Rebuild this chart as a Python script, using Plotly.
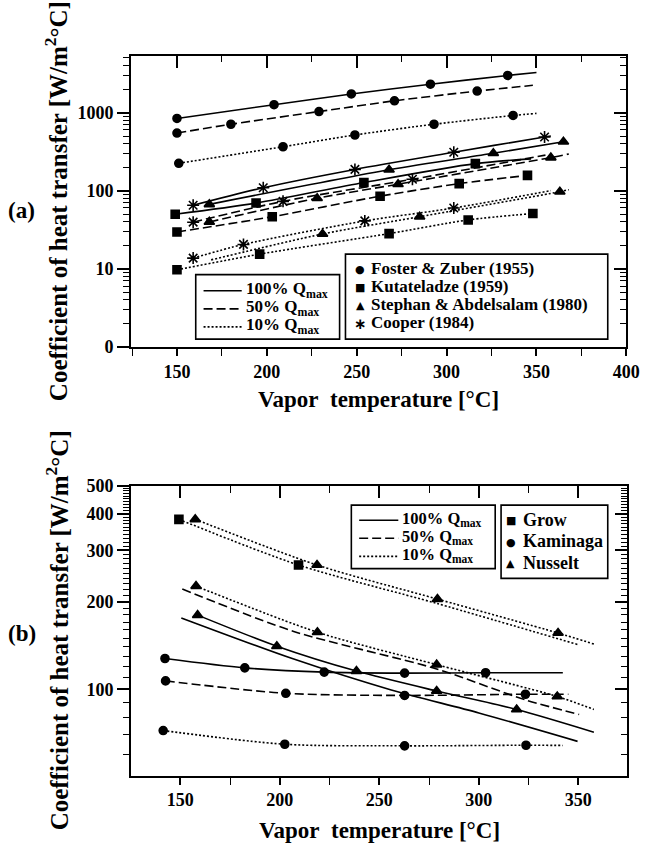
import plotly.graph_objects as go

# ---------------- Panel (a) data : T [°C], h [W/m2°C], marker flag ----------------
FZ100_T = [150, 204, 247, 291, 334, 350]
FZ100_H = [840, 1259, 1728, 2304, 2985, 3250]
FZ100_M = [1, 1, 1, 1, 1, 0]
FZ50_T = [150, 180, 229, 271, 317, 348]
FZ50_H = [546, 708, 1030, 1413, 1884, 2230]
FZ50_M = [1, 1, 1, 1, 1, 0]
FZ10_T = [151, 209, 249, 293, 337, 350]
FZ10_H = [224, 365, 516, 708, 917, 975]
FZ10_M = [1, 1, 1, 1, 1, 0]

KU100_T = [149, 194, 254, 316, 347]
KU100_H = [50, 69.4, 127, 222, 255]
KU100_M = [1, 1, 1, 1, 0]
KU50_T = [150, 203, 263, 307, 345]
KU50_H = [29.6, 46.4, 85, 123, 157]
KU50_M = [1, 1, 1, 1, 1]
KU10_T = [150, 196, 268, 312, 348]
KU10_H = [9.7, 15.4, 28.2, 42.2, 51]
KU10_M = [1, 1, 1, 1, 1]

SA100_T = [168, 268, 326, 365]
SA100_H = [66.8, 185, 301, 422]
SA100_M = [1, 1, 1, 1]
SA50_T = [168, 228, 273, 358, 368]
SA50_H = [39.8, 80, 121, 265, 295]
SA50_M = [1, 1, 1, 1, 0]
SA10_T = [169, 231, 285, 363, 368]
SA10_H = [13, 27.9, 46.4, 97, 103]
SA10_M = [0, 1, 1, 1, 0]

CO100_T = [159, 198, 249, 304, 354.5, 358]
CO100_H = [65, 109, 187, 310, 487, 500]
CO100_M = [1, 1, 1, 1, 1, 0]
CO50_T = [159, 209, 281, 355]
CO50_H = [39.5, 73, 140, 285]
CO50_M = [1, 1, 1, 0]
CO10_T = [159, 187, 254.5, 304, 358]
CO10_H = [13.7, 20.5, 41, 60, 100]
CO10_M = [1, 1, 1, 1, 0]

# ---------------- Panel (b) data ----------------
GR10_T = [149.3, 209.4, 279, 349.6]
GR10_H = [383, 267, 197, 142.5]
GR10_M = [1, 1, 0, 0]
NU10_T = [157.5, 218.7, 279.2, 339.8, 357.8]
NU10_H = [383, 267, 204, 156, 143]
NU10_M = [1, 1, 1, 1, 0]
NUB_T = [157.9, 218.9, 278.8, 339.4, 357.8]
NUB_H = [226, 157, 121.5, 94.5, 85.3]
NUB_M = [1, 1, 1, 1, 0]
GR50_T = [151, 207, 278.8, 323.4, 350.4]
GR50_H = [221, 158, 117.5, 92, 82]
NU100_T = [158.7, 198.5, 238.5, 278.8, 319, 357.8]
NU100_H = [179.7, 140.6, 115.5, 98.7, 85.3, 71.3]
NU100_M = [1, 1, 1, 1, 1, 0]
GR100_T = [150.5, 207, 256, 300, 349.6]
GR100_H = [175.8, 127, 99.5, 83, 66.3]
KA100_T = [142.3, 182.4, 222.3, 262.7, 303.4, 342.2]
KA100_H = [127.6, 118.5, 114.6, 113.7, 114, 114]
KA100_M = [1, 1, 1, 1, 1, 0]
KA50_T = [142.6, 203, 262.7, 323.4, 345]
KA50_H = [106.9, 96.9, 95.3, 96.2, 96.2]
KA50_M = [1, 1, 1, 1, 0]
KA10_T = [141.4, 202.5, 262.7, 323.7, 342.2]
KA10_H = [72.2, 64.8, 64.0, 64.3, 64.2]
KA10_M = [1, 1, 1, 1, 0]

# ---------------- ticks / labels ----------------
A_YTICKS = [1, 10, 100, 1000]
A_YTEXT = ["0", "10", "100", "1000"]
A_YMINOR = [2, 3, 4, 5, 6, 7, 8, 9, 20, 30, 40, 50, 60, 70, 80, 90,
            200, 300, 400, 500, 600, 700, 800, 900, 2000, 3000, 4000, 5000]
B_YTICKS = [100, 200, 300, 400, 500]
B_YMINOR = [60, 70, 80, 90] + list(range(110, 200, 10)) + list(range(210, 300, 10)) + \
           list(range(310, 400, 10)) + list(range(410, 500, 10))
A_XTICKS = [150, 200, 250, 300, 350, 400]
B_XTICKS = [150, 200, 250, 300, 350]
X_MINOR = [125, 175, 225, 275, 325, 375]

LINE_LABELS = ["100% Q<sub>max</sub>", "50% Q<sub>max</sub>", "10% Q<sub>max</sub>"]
LINE_STYLES = ["solid", "dash", "dot"]
A_METHODS = ["Foster & Zuber (1955)", "Kutateladze (1959)",
             "Stephan & Abdelsalam (1980)", "Cooper (1984)"]
A_GLYPHS = ["●", "■", "▲", "∗"]
B_METHODS = ["Grow", "Kaminaga", "Nusselt"]
B_GLYPHS = ["■", "●", "▲"]

C = "#000000"
FONT = "Liberation Serif"
DASH = {"solid": "solid", "dash": "9px,4px", "dot": "2px,2px"}
SYM = {"circle": ("circle", 8), "square": ("square", 8),
       "triangle": ("triangle-up", 9), "asterisk": ("asterisk-open", 10)}

fig = go.Figure()


def series(T, H, M, style, sym, xa, ya):
    s, sz = SYM[sym] if sym else ("circle", 0)
    sizes = [sz if m else 0 for m in M] if M else [0] * len(T)
    fig.add_trace(go.Scatter(
        x=T, y=H, mode="lines+markers", showlegend=False, hoverinfo="skip",
        line=dict(color=C, width=1.6, dash=DASH[style], shape="spline", smoothing=0.8),
        marker=dict(symbol=s, size=sizes, color=C, opacity=1, line=dict(color=C, width=1.6)),
        xaxis=xa, yaxis=ya))


# panel (a)
series(FZ100_T, FZ100_H, FZ100_M, "solid", "circle", "x", "y")
series(FZ50_T, FZ50_H, FZ50_M, "dash", "circle", "x", "y")
series(FZ10_T, FZ10_H, FZ10_M, "dot", "circle", "x", "y")
series(KU100_T, KU100_H, KU100_M, "solid", "square", "x", "y")
series(KU50_T, KU50_H, KU50_M, "dash", "square", "x", "y")
series(KU10_T, KU10_H, KU10_M, "dot", "square", "x", "y")
series(SA100_T, SA100_H, SA100_M, "solid", "triangle", "x", "y")
series(SA50_T, SA50_H, SA50_M, "dash", "triangle", "x", "y")
series(SA10_T, SA10_H, SA10_M, "dot", "triangle", "x", "y")
series(CO100_T, CO100_H, CO100_M, "solid", "asterisk", "x", "y")
series(CO50_T, CO50_H, CO50_M, "dash", "asterisk", "x", "y")
series(CO10_T, CO10_H, CO10_M, "dot", "asterisk", "x", "y")

# panel (b)
series(GR10_T, GR10_H, GR10_M, "dot", "square", "x2", "y2")
series(NU10_T, NU10_H, NU10_M, "dot", "triangle", "x2", "y2")
series(NUB_T, NUB_H, NUB_M, "dot", "triangle", "x2", "y2")
series(GR50_T, GR50_H, None, "dash", None, "x2", "y2")
series(NU100_T, NU100_H, NU100_M, "solid", "triangle", "x2", "y2")
series(GR100_T, GR100_H, None, "solid", None, "x2", "y2")
series(KA100_T, KA100_H, KA100_M, "solid", "circle", "x2", "y2")
series(KA50_T, KA50_H, KA50_M, "dash", "circle", "x2", "y2")
series(KA10_T, KA10_H, KA10_M, "dot", "circle", "x2", "y2")

# dummy traces so the mirrored (inside-tick) axes render
for xa, ya in [("x3", "y"), ("x", "y3"), ("x4", "y2"), ("x2", "y4")]:
    fig.add_trace(go.Scatter(x=[None], y=[None], showlegend=False, hoverinfo="skip",
                             xaxis=xa, yaxis=ya))

W, Hh = 656, 853
tickfont = dict(family=FONT, size=18, color=C, weight=700)


def px_x(p):
    return p / W


def px_y(p):
    return 1 - p / Hh


A_XD = [px_x(134), px_x(640)]
A_YD = [px_y(345), px_y(47)]
B_XD = [px_x(134), px_x(641)]
B_YD = [px_y(784), px_y(487)]
A_XR = [124.5, 400]
A_YR = [0, 3.725]
B_XR = [125.3, 374.6]
B_YR = [1.704, 2.699]

common = dict(showline=True, linecolor=C, linewidth=2, showgrid=False, zeroline=False,
              tickcolor=C, tickwidth=1.6)


def minor(vals, side, ln=6):
    return dict(tickvals=vals, ticks=side, ticklen=ln, tickcolor=C, tickwidth=1.4)


fig.update_layout(
    width=W, height=Hh, margin=dict(l=0, r=0, t=0, b=0),
    paper_bgcolor="white", plot_bgcolor="white", showlegend=False,
    xaxis=dict(domain=A_XD, range=A_XR, anchor="y", ticks="outside", ticklen=7,
               tickvals=A_XTICKS, tickfont=tickfont, minor=minor(X_MINOR, "outside", 7), **common),
    yaxis=dict(domain=A_YD, range=A_YR, type="log", anchor="x", ticks="outside", ticklen=12,
               tickvals=A_YTICKS, ticktext=A_YTEXT, tickfont=tickfont,
               minor=minor(A_YMINOR, "outside"), **common),
    xaxis3=dict(overlaying="x", anchor="y", side="top", range=A_XR, ticks="inside", ticklen=12,
                tickvals=A_XTICKS, showticklabels=False, minor=minor(X_MINOR, "inside"), **common),
    yaxis3=dict(overlaying="y", anchor="x", side="right", range=A_YR, type="log", ticks="inside",
                ticklen=12, tickvals=A_YTICKS, showticklabels=False,
                minor=minor(A_YMINOR, "inside"), **common),
    xaxis2=dict(domain=B_XD, range=B_XR, anchor="y2", ticks="outside", ticklen=7,
                tickvals=B_XTICKS, tickfont=tickfont, minor=minor(X_MINOR, "outside", 7), **common),
    yaxis2=dict(domain=B_YD, range=B_YR, type="log", anchor="x2", ticks="outside", ticklen=12,
                tickvals=B_YTICKS, tickfont=tickfont, minor=minor(B_YMINOR, "outside"), **common),
    xaxis4=dict(overlaying="x2", anchor="y2", side="top", range=B_XR, ticks="inside", ticklen=12,
                tickvals=B_XTICKS, showticklabels=False, minor=minor(X_MINOR, "inside", 7), **common),
    yaxis4=dict(overlaying="y2", anchor="x2", side="right", range=B_YR, type="log", ticks="inside",
                ticklen=12, tickvals=B_YTICKS, showticklabels=False,
                minor=minor(B_YMINOR, "inside"), **common),
)

shapes = []
ann = []


def box(x0, y0, x1, y1):
    shapes.append(dict(type="rect", xref="paper", yref="paper", x0=px_x(x0), x1=px_x(x1),
                       y0=px_y(y1), y1=px_y(y0), line=dict(color=C, width=1.6),
                       fillcolor="white", layer="above"))


def text(t, x, y, size, anchor="left", fam=FONT):
    ann.append(dict(text=t, x=px_x(x), y=px_y(y), xanchor=anchor, yanchor="middle",
                    font=dict(family=fam, size=size, color=C, weight=700)))


def line_legend(x0, y0, x1, y1, rows, lx0, lx1, tx, size):
    box(x0, y0, x1, y1)
    for lab, st, ry in zip(LINE_LABELS, LINE_STYLES, rows):
        shapes.append(dict(type="line", xref="paper", yref="paper", x0=px_x(lx0), x1=px_x(lx1),
                           y0=px_y(ry + 1), y1=px_y(ry + 1), layer="above",
                           line=dict(color=C, width=1.6, dash=DASH[st])))
        text(lab, tx, ry, size)


def mark_legend(x0, y0, x1, y1, rows, labels, glyphs, gx, tx, size):
    box(x0, y0, x1, y1)
    for lab, g, ry in zip(labels, glyphs, rows):
        gs = 15 if g == "∗" else 11
        text(g, gx, ry + 1, gs, anchor="center", fam="DejaVu Sans")
        text(lab, tx, ry, size)


line_legend(200, 271, 347, 337, [286.5, 305, 323.5], 208, 247, 249, 17)
mark_legend(353, 250, 621, 337, [265, 283.5, 302, 320.5], A_METHODS, A_GLYPHS, 368, 377, 17)
line_legend(359, 507, 506, 572, [521.5, 540, 558.5], 367, 407, 409, 16.5)
mark_legend(512, 507, 621, 582, [522, 544, 566], B_METHODS, B_GLYPHS, 522, 532, 18)

ytitle = "Coefficient of heat transfer [W/m<sup>2</sup>°C]"
xtitle = "Vapor\u00a0 temperature [°C]"
for yc in [(A_YD[0] + A_YD[1]) / 2, (B_YD[0] + B_YD[1]) / 2]:
    ann.append(dict(text=ytitle, x=px_x(58), y=yc, textangle=-90, xanchor="center",
                    yanchor="middle", font=dict(family=FONT, size=25, color=C, weight=700)))
ann.append(dict(text=xtitle, x=(A_XD[0] + A_XD[1]) / 2, y=px_y(399), xanchor="center",
                yanchor="middle", font=dict(family=FONT, size=23, color=C, weight=700)))
ann.append(dict(text=xtitle, x=(B_XD[0] + B_XD[1]) / 2, y=px_y(840), xanchor="center",
                yanchor="middle", font=dict(family=FONT, size=23, color=C, weight=700)))
text("(a)", 22, 205, 23, anchor="center")
text("(b)", 22, 638, 23, anchor="center")

for a in ann:
    fig.add_annotation(xref="paper", yref="paper", showarrow=False, **a)
fig.update_layout(shapes=shapes)

fig.write_html("out.html")
